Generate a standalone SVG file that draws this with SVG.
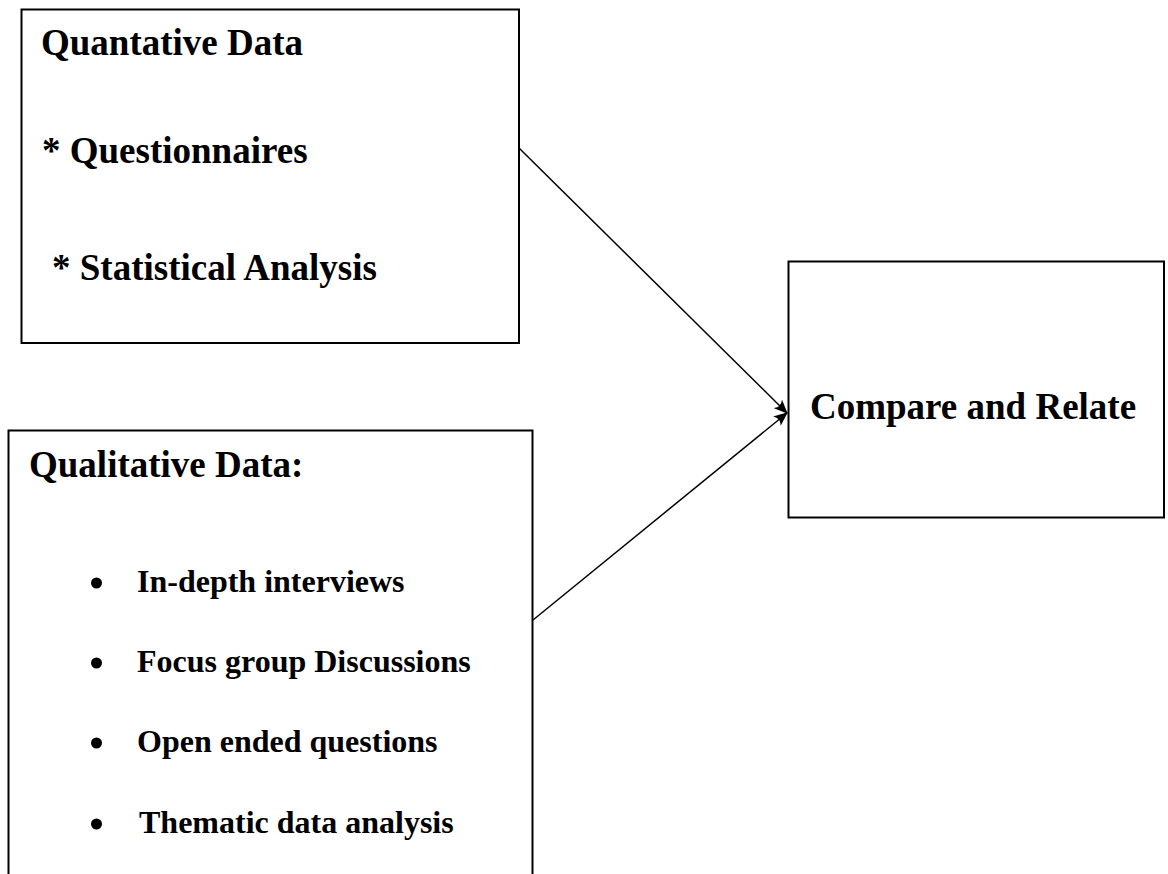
<svg xmlns="http://www.w3.org/2000/svg" width="1168" height="874" viewBox="0 0 1168 874">
<style>
.box{fill:#fff;stroke:#000;stroke-width:2}
.t{font-family:"Liberation Serif","Times New Roman",serif;font-weight:bold;fill:#000}
.h{font-size:37px}
.b{font-size:32px}
.ln{stroke:#000;stroke-width:1.5;fill:none}
</style>
<defs>
<marker id="ah" viewBox="0 0 14 12" refX="13" refY="6" markerWidth="14" markerHeight="12" markerUnits="userSpaceOnUse" orient="auto">
<path d="M0,0 L14,6 L0,12 Q5,6 0,0 Z" fill="#000"/>
</marker>
</defs>
<rect width="1168" height="874" fill="#fff"/>
<g id="connectors">
<line class="ln" x1="519" y1="148" x2="787" y2="413" marker-end="url(#ah)"/>
<line class="ln" x1="533" y1="620" x2="787" y2="413" marker-end="url(#ah)"/>
</g>
<g id="quant">
<rect class="box" x="21.5" y="9.5" width="497.5" height="333.5"/>
<text class="t h" x="41" y="55">Quantative Data</text>
<text class="t h" x="42" y="163">* Questionnaires</text>
<text class="t h" x="52" y="280">* Statistical Analysis</text>
</g>
<g id="qual">
<rect class="box" x="8.5" y="430.5" width="524" height="460"/>
<text class="t h" x="29" y="477">Qualitative Data:</text>
<circle cx="96.5" cy="583" r="5.5"/>
<text class="t b" x="137" y="592">In-depth interviews</text>
<circle cx="96.5" cy="663" r="5.5"/>
<text class="t b" x="137" y="672">Focus group Discussions</text>
<circle cx="96.5" cy="743" r="5.5"/>
<text class="t b" x="137" y="752">Open ended questions</text>
<circle cx="96.5" cy="824" r="5.5"/>
<text class="t b" x="139" y="833">Thematic data analysis</text>
</g>
<g id="compare">
<rect class="box" x="788.5" y="261.5" width="375.5" height="256"/>
<text class="t h" x="810" y="419">Compare and Relate</text>
</g>
</svg>
